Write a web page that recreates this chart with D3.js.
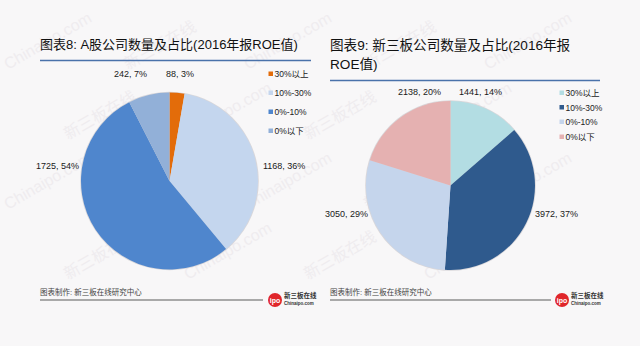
<!DOCTYPE html>
<html><head><meta charset="utf-8">
<script src="https://cdn.jsdelivr.net/npm/d3@7"></script>
<style>
html,body{margin:0;padding:0;background:#f8f7f8;}
svg{display:block;font-family:"Liberation Sans","Noto Sans CJK SC",sans-serif;}
</style></head>
<body>
<svg id="c" width="640" height="346"></svg>
<script>
// ---- data ----
const categories = ["30%以上", "10%-30%", "0%-10%", "0%以下"];
const aShareValues = [88, 1168, 1725, 242];
const aSharePercents = ["3%", "36%", "54%", "7%"];
const neeqValues = [1441, 3972, 3050, 2138];
const neeqPercents = ["14%", "37%", "29%", "20%"];
const aShareColors = ["#e36c0a", "#c4d6ee", "#4f86cd", "#92b0d8"];
const neeqColors = ["#b3dde3", "#2f5a8d", "#c5d5ec", "#e5b1b1"];
const title8 = "图表8: A股公司数量及占比(2016年报ROE值)";
const title9a = "图表9: 新三板公司数量及占比(2016年报";
const title9b = "ROE值)";
const sourceText = "图表制作: 新三板在线研究中心";

const svg = d3.select("#c");

// ---- watermarks ----
const wm = svg.append("g").attr("fill", "#efecef").attr("font-size", 16);
const wmTexts = ["Chinaipo.com", "新三板在线"];
for (let r = 0; r < 5; r++) {
  for (let c = 0; c < 6; c++) {
    const x = c * 120 + (r % 2 ? 60 : 0) + 8;
    const y = r * 70 + 70;
    if (x > 540 || y > 345) continue;
    wm.append("text").attr("transform", `translate(${x},${y}) rotate(-30)`)
      .text(wmTexts[(r + c) % 2]);
  }
}

function drawPie(opts) {
  const g = svg.append("g").attr("transform", `translate(${opts.cx},${opts.cy})`);
  const pie = d3.pie().sort(null).value(d => d)(opts.values);
  const arc = d3.arc().innerRadius(0).outerRadius(opts.r);
  g.append("circle").attr("r", opts.r + 0.8).attr("fill", "#d9d7da");
  g.selectAll("path.s").data(pie).join("path").attr("class", "s")
    .attr("d", arc).attr("fill", (d, i) => opts.colors[i]);
  // labels
  svg.append("g").selectAll("text").data(pie).join("text")
    .attr("font-size", 9).attr("fill", "#1a1a1a")
    .attr("dominant-baseline", "central")
    .attr("text-anchor", (d, i) => opts.labelPos[i][2])
    .attr("x", (d, i) => opts.labelPos[i][0])
    .attr("y", (d, i) => opts.labelPos[i][1])
    .text((d, i) => `${opts.values[i]}, ${opts.percents[i]}`);
  // legend
  const lg = svg.append("g");
  categories.forEach((c, i) => {
    const y = opts.legY[i];
    lg.append("rect").attr("x", opts.legX).attr("y", y - 2.5).attr("width", 4.5).attr("height", 4.5)
      .attr("fill", opts.colors[i]);
    lg.append("text").attr("x", opts.legX + 6).attr("y", y).attr("dominant-baseline", "central")
      .attr("font-size", 8.5).attr("fill", "#222").text(c);
  });
}

// ---- titles ----
svg.append("text").attr("x", 40).attr("y", 49).attr("font-size", 13).attr("fill", "#111").text(title8);
svg.append("line").attr("x1", 40).attr("x2", 311).attr("y1", 60.5).attr("y2", 60.5)
  .attr("stroke", "#4a72aa").attr("stroke-width", 1.6);
svg.append("text").attr("x", 330).attr("y", 50).attr("font-size", 13.6).attr("fill", "#111").text(title9a);
svg.append("text").attr("x", 330).attr("y", 69).attr("font-size", 13.6).attr("fill", "#111").text(title9b);
svg.append("line").attr("x1", 330).attr("x2", 600).attr("y1", 80.5).attr("y2", 80.5)
  .attr("stroke", "#4a72aa").attr("stroke-width", 1.6);

drawPie({cx: 169.5, cy: 181, r: 88.5, values: aShareValues, percents: aSharePercents, colors: aShareColors,
  labelPos: [[166, 74, "start"], [263, 166, "start"], [79, 166, "end"], [147, 74, "end"]],
  legX: 268.5, legY: [74, 93, 112, 131]});
drawPie({cx: 450.5, cy: 185.5, r: 84.5, values: neeqValues, percents: neeqPercents, colors: neeqColors,
  labelPos: [[459, 92, "start"], [535, 214, "start"], [368, 214, "end"], [441, 92, "end"]],
  legX: 559.5, legY: [93, 107.5, 122, 137]});

// ---- footers ----
function footer(x, x2, lx) {
  svg.append("text").attr("x", x).attr("y", 292).attr("dominant-baseline", "central")
    .attr("font-size", 7.5).attr("fill", "#444").text(sourceText);
  svg.append("line").attr("x1", x).attr("x2", x2).attr("y1", 300).attr("y2", 300)
    .attr("stroke", "#8f8f8f").attr("stroke-width", 1.4);
  const g = svg.append("g").attr("transform", `translate(${lx},300)`);
  g.append("circle").attr("r", 7).attr("fill", "#e0262b");
  g.append("text").attr("y", 0.5).attr("text-anchor", "middle").attr("dominant-baseline", "central")
    .attr("font-size", 7).attr("font-weight", "bold").attr("fill", "#fff").text("ipo");
  g.append("text").attr("x", 9).attr("y", -2).attr("font-size", 6.5).attr("font-weight", "bold")
    .attr("fill", "#333").text("新三板在线");
  g.append("text").attr("x", 9).attr("y", 4.5).attr("font-size", 4.5).attr("font-weight", "bold")
    .attr("fill", "#333").text("Chinaipo.com");
}
footer(40, 263, 275);
footer(330, 551, 562);
</script>
</body></html>
